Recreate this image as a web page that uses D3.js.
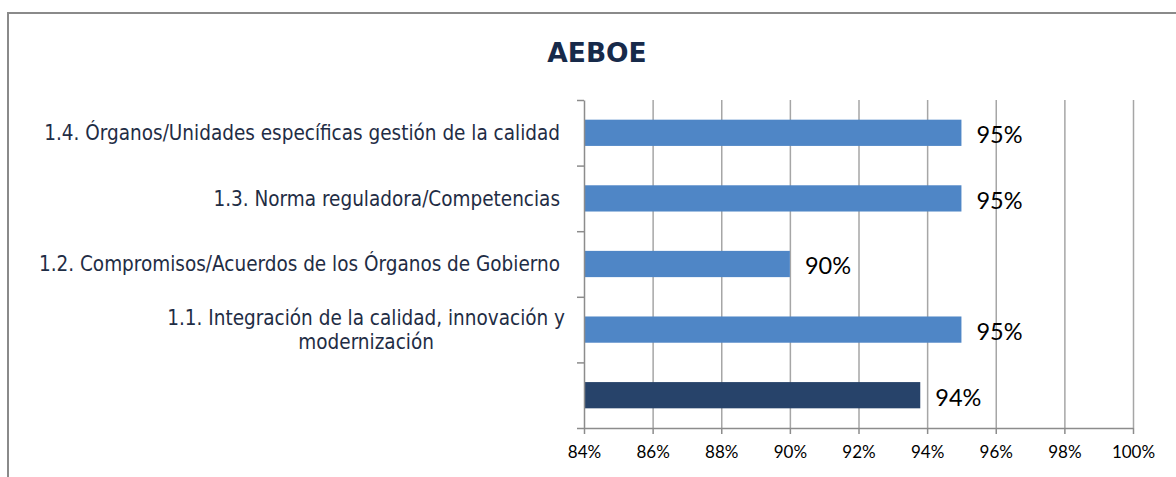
<!DOCTYPE html>
<html>
<head>
<meta charset="utf-8">
<script src="https://cdn.jsdelivr.net/npm/d3@7"></script>
<style>
  body { margin: 0; background: #fff; }
  #chart { width: 1176px; height: 477px; }
  .grid line { stroke: #a6a6a6; stroke-width: 1.5; }
  .grid path { display: none; }
  .axis path, .axis line { stroke: #8c8c8c; stroke-width: 1.5; }
  .axis text { font-family: Lato, "Open Sans", sans-serif; font-size: 17px; fill: #000; }
  .cat { font-family: "DejaVu Sans Condensed", "DejaVu Sans", sans-serif; font-size: 20.5px; fill: #1f2d45; }
  .val { font-family: Lato, "Open Sans", sans-serif; font-size: 23.5px; fill: #000; }
</style>
</head>
<body>
<div id="chart"></div>
<script>
// data
const categories = [
  "1.4. Órganos/Unidades específicas gestión de la calidad",
  "1.3. Norma reguladora/Competencias ",
  "1.2. Compromisos/Acuerdos de los Órganos de Gobierno ",
  "1.1. Integración de la calidad, innovación y|modernización",
  ""
]
const values = [0.95, 0.95, 0.90, 0.95, 0.938]
const barColors = ["#4f86c6", "#4f86c6", "#4f86c6", "#4f86c6", "#27436a"]
const xTicks = [0.84, 0.86, 0.88, 0.90, 0.92, 0.94, 0.96, 0.98, 1.00]
const title = "AEBOE"

const W = 1176, H = 477
const margin = { top: 100, right: 43, bottom: 49, left: 584 }
const width = W - margin.left - margin.right
const height = H - margin.top - margin.bottom

const svg = d3.select("#chart").append("svg")
  .attr("width", W)
  .attr("height", H)

// outer frame (only left and top visible)
svg.append("path")
  .attr("d", "M8," + H + " L8,13 L" + W + ",13")
  .attr("fill", "none")
  .attr("stroke", "#8a8a8a")
  .attr("stroke-width", 2)

svg.append("text")
  .attr("x", 597)
  .attr("y", 62)
  .attr("text-anchor", "middle")
  .style("font-family", "'DejaVu Sans', sans-serif")
  .style("font-weight", "bold")
  .style("font-size", "26.5px")
  .style("fill", "#172a4a")
  .text(title)

const g = svg.append("g")
  .attr("transform", "translate(" + margin.left + "," + margin.top + ")")

const x = d3.scaleLinear().domain([0.84, 1.00]).range([0, width])
const idx = d3.range(categories.length)
const y = d3.scaleBand().domain(idx).range([0, height]).paddingInner(0.6).paddingOuter(0.3)
const yTicks = d3.scaleLinear().domain([0, categories.length]).range([0, height])

// vertical gridlines
g.append("g")
  .attr("class", "grid")
  .call(d3.axisBottom(x).tickValues(xTicks).tickSize(height).tickFormat(""))
  .call(gg => gg.selectAll("line").filter(d => d === 0.84).remove())

// bars
g.selectAll("rect.bar")
  .data(idx)
  .join("rect")
  .attr("class", "bar")
  .attr("x", x(0.84))
  .attr("y", i => y(i))
  .attr("width", i => x(values[i]) - x(0.84))
  .attr("height", y.bandwidth())
  .attr("fill", i => barColors[i])

// value labels
g.selectAll("text.val")
  .data(idx)
  .join("text")
  .attr("class", "val")
  .attr("x", i => x(values[i]) + 15)
  .attr("y", i => y(i) + y.bandwidth() / 2 + 2)
  .attr("dy", "0.36em")
  .text(i => d3.format(".0%")(values[i]))

// x axis
g.append("g")
  .attr("class", "axis")
  .attr("transform", "translate(0," + height + ")")
  .call(d3.axisBottom(x).tickValues(xTicks).tickFormat(d3.format(".0%")).tickSize(6).tickSizeOuter(0).tickPadding(12))

// y axis (ticks at category boundaries)
g.append("g")
  .attr("class", "axis")
  .call(d3.axisLeft(yTicks).ticks(categories.length).tickFormat("").tickSize(7).tickSizeOuter(0))

// category labels
const labelRight = -24
idx.forEach(i => {
  const lines = categories[i].split("|")
  if (!lines[0]) return
  const cy = y(i) + y.bandwidth() / 2
  const lh = 24
  const t = g.append("text")
    .attr("class", "cat")
  lines.forEach((ln, k) => {
    t.append("tspan")
      .attr("y", cy + (k - (lines.length - 1) / 2) * lh)
      .attr("dy", "0.36em")
      .text(ln)
  })
  if (lines.length === 1) {
    t.attr("text-anchor", "end").selectAll("tspan").attr("x", labelRight)
  } else {
    const w = d3.max(t.selectAll("tspan").nodes(), n => n.getComputedTextLength())
    t.attr("text-anchor", "middle").selectAll("tspan").attr("x", labelRight + 5 - w / 2)
  }
})
</script>
</body>
</html>
